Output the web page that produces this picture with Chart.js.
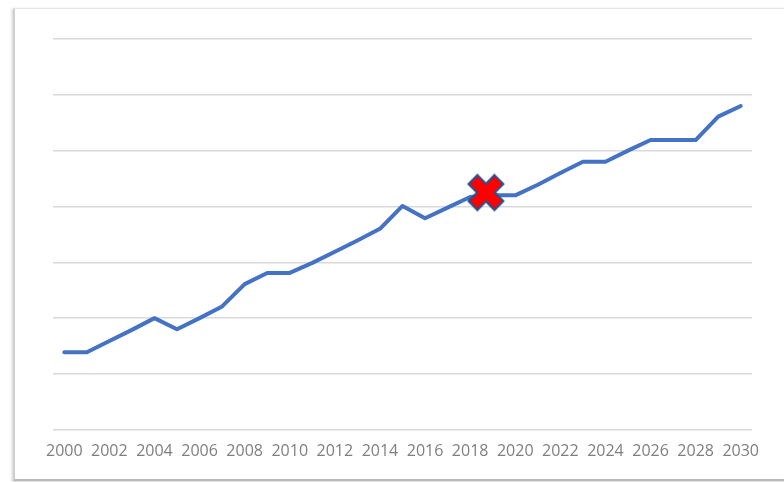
<!DOCTYPE html>
<html>
<head>
<meta charset="utf-8">
<script src="https://cdn.jsdelivr.net/npm/chart.js@4"></script>
<style>
  html, body { margin: 0; padding: 0; background: #ffffff; overflow: hidden; }
  #wrap { position: relative; width: 784px; height: 482px; }
  #frame {
    position: absolute; left: 13px; top: 8px; width: 800px; height: 470px;
    border-left: 2px solid #cfcfcf; border-top: 1px solid #e6e6e6; border-bottom: 2px solid #b8b8b8;
    box-shadow: -1px 1px 3px rgba(0,0,0,0.18);
    background: #ffffff;
  }
  canvas { position: absolute; left: 0; top: 0; }
</style>
</head>
<body>
<div id="wrap">
  <div id="frame"></div>
  <canvas id="c" width="784" height="482"></canvas>
</div>
<script>
// ---- data ----
const years = [2000,2001,2002,2003,2004,2005,2006,2007,2008,2009,2010,2011,2012,2013,2014,2015,
               2016,2017,2018,2019,2020,2021,2022,2023,2024,2025,2026,2027,2028,2029,2030];
const values = [1.39,1.39,1.59,1.79,2.00,1.80,2.00,2.21,2.61,2.81,2.81,2.99,3.19,3.39,3.60,4.01,
                3.79,3.98,4.17,4.20,4.20,4.39,4.60,4.80,4.80,5.00,5.19,5.19,5.19,5.61,5.80];
const tickYears = [2000,2002,2004,2006,2008,2010,2012,2014,2016,2018,2020,2022,2024,2026,2028,2030];
const markerX = [2018.7];
const markerY = [4.25];

// ---- marker glyph (thick red X with dark blue outline) ----
function makeCross() {
  const s = 40, c = document.createElement('canvas');
  c.width = s; c.height = s;
  const g = c.getContext('2d');
  g.translate(s / 2, s / 2);
  g.rotate(Math.PI / 4);
  const a = 6.2, b = 18.3;
  g.beginPath();
  g.moveTo(-a, -b); g.lineTo(a, -b); g.lineTo(a, -a); g.lineTo(b, -a); g.lineTo(b, a);
  g.lineTo(a, a); g.lineTo(a, b); g.lineTo(-a, b); g.lineTo(-a, a); g.lineTo(-b, a);
  g.lineTo(-b, -a); g.lineTo(-a, -a); g.closePath();
  g.fillStyle = '#ff0000';
  g.fill();
  g.lineWidth = 2.2;
  g.lineJoin = 'miter';
  g.strokeStyle = '#2e4f86';
  g.stroke();
  return c;
}

const lineData = years.map((y, i) => ({ x: y, y: values[i] }));
const markerData = markerX.map((x, i) => ({ x: x, y: markerY[i] }));

new Chart(document.getElementById('c'), {
  type: 'line',
  data: {
    datasets: [
      {
        data: markerData,
        showLine: false,
        pointStyle: makeCross(),
        pointRadius: 20,
        order: 0
      },
      {
        data: lineData,
        borderColor: '#4472c4',
        borderWidth: 4,
        borderJoinStyle: 'round',
        borderCapStyle: 'round',
        pointRadius: 0,
        tension: 0,
        fill: false,
        order: 1
      }
    ]
  },
  options: {
    responsive: false,
    animation: false,
    events: [],
    layout: { padding: { left: 53, right: 32, top: 39, bottom: 9 } },
    plugins: { legend: { display: false }, tooltip: { enabled: false } },
    scales: {
      x: {
        type: 'linear',
        min: 1999.5,
        max: 2030.5,
        afterBuildTicks: (axis) => { axis.ticks = tickYears.map(v => ({ value: v })); },
        grid: { display: false, drawTicks: false },
        border: { display: false },
        ticks: {
          autoSkip: false,
          maxRotation: 0,
          padding: 12,
          color: '#7f7f7f',
          font: { family: 'Open Sans', size: 16 },
          callback: (v) => String(v)
        }
      },
      y: {
        min: 0,
        max: 7,
        ticks: { display: false, stepSize: 1 },
        grid: { color: '#dadada', lineWidth: 1.5, drawTicks: false },
        border: { display: false }
      }
    }
  }
});
</script>
</body>
</html>
